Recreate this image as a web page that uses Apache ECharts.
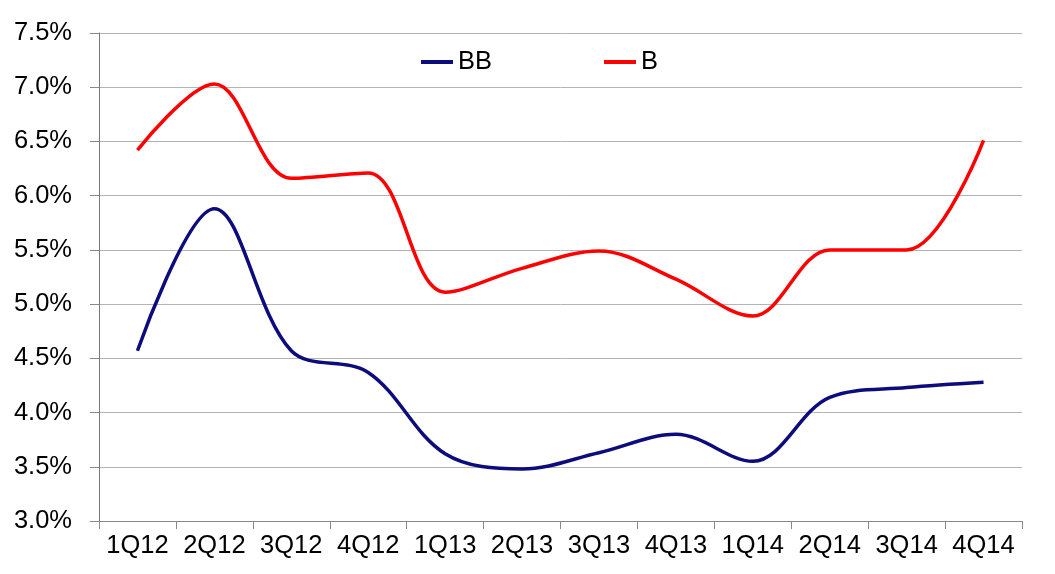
<!DOCTYPE html>
<html lang="en">
<head>
    <meta charset="UTF-8">
    <title>BB vs B</title>
    <script src="https://cdn.jsdelivr.net/npm/echarts@6/dist/echarts.min.js"></script>
    <style>
        html, body { margin: 0; padding: 0; background: #fff; }
    </style>
</head>
<body>
<div id="main" style="width: 1055px;height: 574px"></div>
<script>
    var quarters = ['1Q12', '2Q12', '3Q12', '4Q12', '1Q13', '2Q13', '3Q13', '4Q13', '1Q14', '2Q14', '3Q14', '4Q14'];
    var bbValues = [4.57, 5.88, 4.57, 4.37, 3.62, 3.48, 3.63, 3.80, 3.55, 4.14, 4.23, 4.28];
    var bValues = [6.42, 7.03, 6.16, 6.21, 5.11, 5.33, 5.49, 5.23, 4.89, 5.50, 5.50, 6.51];

    var myChart = echarts.init(document.getElementById('main'));
    var font = 'Liberation Sans, Arial, sans-serif';

    var option = {
        backgroundColor: '#fff',
        animation: false,
        grid: {
            left: 99,
            right: 33,
            top: 33,
            bottom: 53
        },
        legend: {
            left: 416,
            top: 44,
            itemGap: 112,
            itemWidth: 32,
            itemHeight: 4,
            icon: 'rect',
            selectedMode: false,
            textStyle: {
                color: '#000',
                fontSize: 25.5,
                fontFamily: font
            },
            data: ['BB', 'B']
        },
        xAxis: {
            type: 'category',
            data: quarters,
            boundaryGap: true,
            axisLine: { lineStyle: { color: '#888', width: 1 } },
            axisTick: { show: true, interval: 0, length: 8, lineStyle: { color: '#888' } },
            axisLabel: {
                interval: 0,
                hideOverlap: false,
                color: '#000',
                fontSize: 25.5,
                fontFamily: font,
                margin: 12
            }
        },
        yAxis: {
            type: 'value',
            min: 3.0,
            max: 7.5,
            interval: 0.5,
            axisLine: { show: true, lineStyle: { color: '#777', width: 1 } },
            axisTick: { show: true, length: 9, inside: false, lineStyle: { color: '#888' } },
            splitLine: { lineStyle: { color: '#b4b4b4', width: 1 } },
            axisLabel: {
                color: '#000',
                fontSize: 25.5,
                fontFamily: font,
                margin: 27,
                formatter: function (v) { return v.toFixed(1) + '%'; }
            }
        },
        series: [{
            name: 'BB',
            type: 'line',
            data: bbValues,
            smooth: 0.35,
            symbol: 'none',
            color: '#0c0c7c',
            lineStyle: { width: 3.5, color: '#0c0c7c' }
        }, {
            name: 'B',
            type: 'line',
            data: bValues,
            smooth: 0.35,
            symbol: 'none',
            color: '#ff0000',
            lineStyle: { width: 3.5, color: '#ff0000' }
        }]
    };
    myChart.setOption(option);
</script>
</body>
</html>
